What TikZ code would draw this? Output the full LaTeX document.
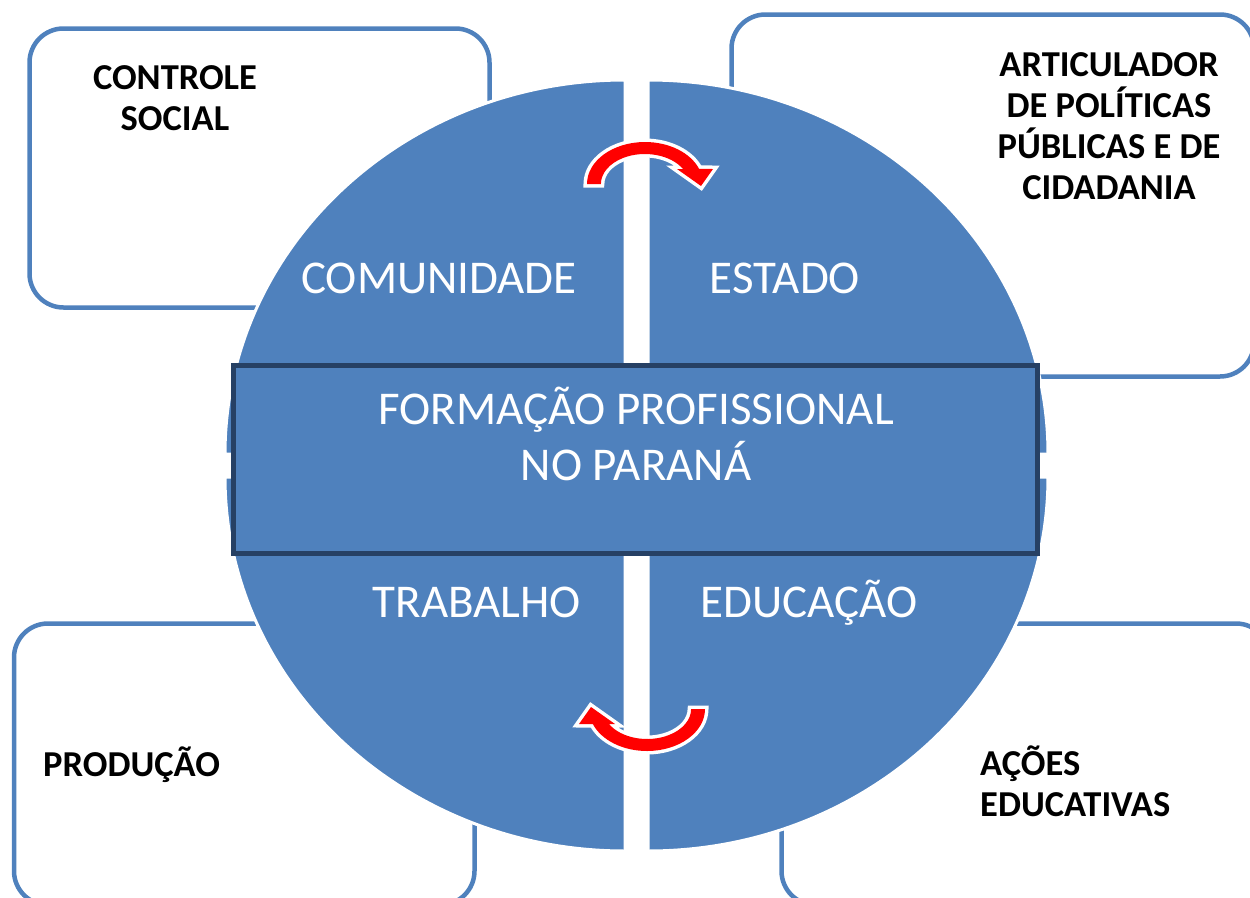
\documentclass[tikz,border=0pt]{standalone}
\usepackage{fontspec}
\setmainfont{Carlito}
\definecolor{qblue}{HTML}{4F81BD}
\definecolor{navy}{HTML}{264064}
\begin{document}
\begin{tikzpicture}[x=1pt,y=-1pt,
  box/.style={draw=qblue, line width=4.5pt, rounded corners=34pt, fill=white},
  quad/.style={fill=qblue, draw=white, line width=3pt},
  lbl/.style={font=\fontsize{36.5}{41}\selectfont\bfseries, text=black, inner sep=0pt, align=center},
  wlbl/.style={font=\fontsize{47}{56}\selectfont, text=white, inner sep=0pt, align=center},
  rarrow/.style={fill=red, preaction={draw=white, line width=7pt, line join=miter}},
]
\useasboundingbox (0,0) rectangle (1250,897);
\clip (0,0) rectangle (1250,897);

% outer rounded boxes
\draw[box] (29.5,28.5) rectangle (489.5,307.5);
\draw[box] (731.5,14.5) rectangle (1254,376.5);
\draw[box] (14,623.5) rectangle (474.5,905);
\draw[box] (781.5,623.5) rectangle (1270,905);

% quadrants
\path[quad] (625,454) -- (225,454) arc[start angle=180, end angle=270, x radius=400, y radius=374] -- cycle;
\path[quad] (648,454) -- (648,80) arc[start angle=270, end angle=360, x radius=400, y radius=374] -- cycle;
\path[quad] (625,477) -- (225,477) arc[start angle=180, end angle=90, x radius=400, y radius=374] -- cycle;
\path[quad] (648,477) -- (1048,477) arc[start angle=0, end angle=90, x radius=400, y radius=374] -- cycle;

% central rectangle
\node (core) [draw=navy, fill=qblue, line width=5pt, minimum width=804pt, minimum height=188pt, inner sep=0pt] at (635.5,459.5) {};

% arrows
\path[rarrow] (587,184) arc[start angle=180, end angle=339, x radius=58, y radius=42] -- (713,169) -- (701,186) -- (677,169) -- (683,169) arc[start angle=330, end angle=180, x radius=44, y radius=30] -- cycle;
\begin{scope}[rotate around={180:(646,446.5)}]
\path[rarrow] (587,184) arc[start angle=180, end angle=339, x radius=58, y radius=42] -- (713,169) -- (701,186) -- (677,169) -- (683,169) arc[start angle=330, end angle=180, x radius=44, y radius=30] -- cycle;
\end{scope}

% box labels (base = baseline of last line)
\node (ctrl) [lbl, anchor=base] at (175,130) {CONTROLE\\SOCIAL};
\node (artic) [lbl, anchor=base] at (1109,199) {ARTICULADOR\\DE POLÍTICAS\\PÚBLICAS E DE\\CIDADANIA};
\node (prod) [lbl, anchor=base west] at (43,776) {PRODUÇÃO};
\node (acoes) [lbl, anchor=base west, align=left] at (980,816) {AÇÕES\\EDUCATIVAS};

% circle labels
\node (comu) [wlbl, anchor=base] at (439,293) {COMUNIDADE};
\node (estado) [wlbl, anchor=base] at (785,293) {ESTADO};
\node (trab) [wlbl, anchor=base] at (477,617) {TRABALHO};
\node (educ) [wlbl, anchor=base] at (809,617) {EDUCAÇÃO};
\node (form) [wlbl, anchor=base] at (636,480) {FORMAÇÃO PROFISSIONAL\\NO PARANÁ};
\end{tikzpicture}
\end{document}
